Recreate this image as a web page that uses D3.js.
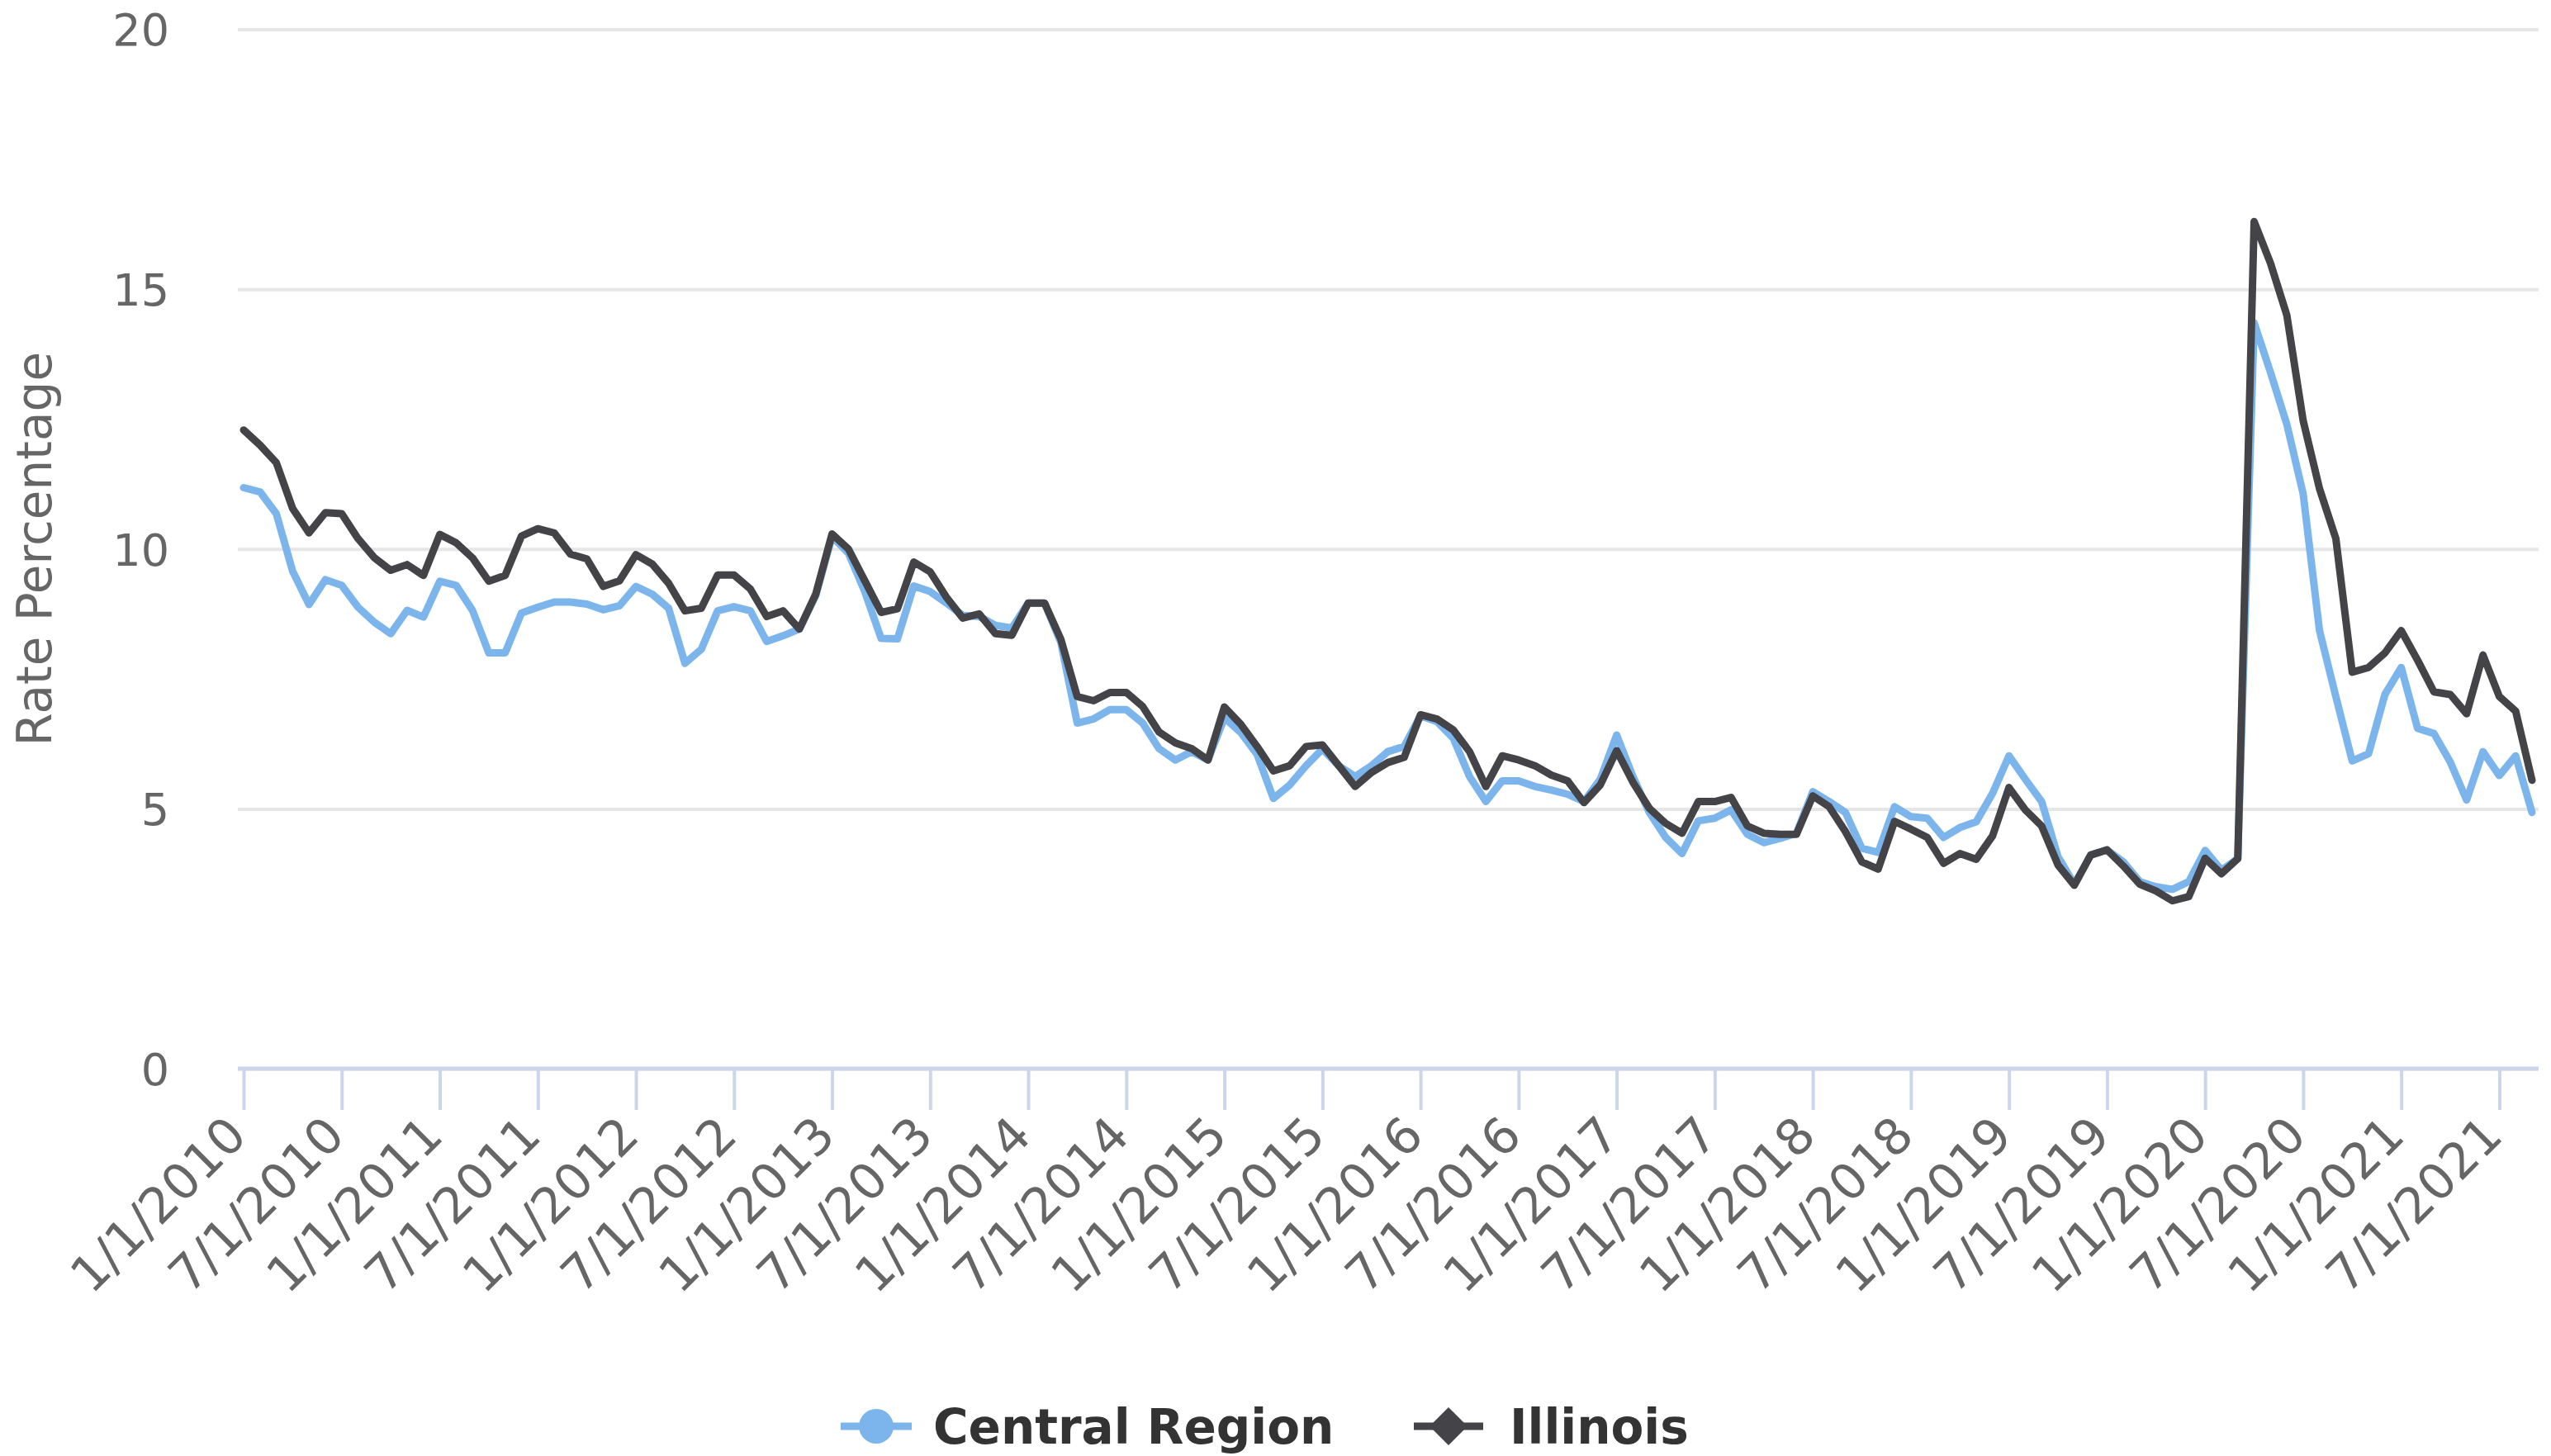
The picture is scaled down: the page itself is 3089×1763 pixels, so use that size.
<!DOCTYPE html>
<html><head><meta charset="utf-8">
<script src="https://cdn.jsdelivr.net/npm/d3@7"></script>
<style>html,body{margin:0;padding:0;background:#fff;} svg{display:block;}</style>
</head><body>
<svg id="chart" width="3089" height="1763"></svg>
<script>
// ---- data ----
const months = [];
for (let yr = 2010; yr <= 2021; yr++) {
  for (let m = 1; m <= 12; m++) {
    if (yr === 2021 && m > 9) break;
    months.push(m + "/1/" + yr);
  }
}
const tickLabels = ["1/1/2010","7/1/2010","1/1/2011","7/1/2011","1/1/2012","7/1/2012","1/1/2013","7/1/2013",
  "1/1/2014","7/1/2014","1/1/2015","7/1/2015","1/1/2016","7/1/2016","1/1/2017","7/1/2017",
  "1/1/2018","7/1/2018","1/1/2019","7/1/2019","1/1/2020","7/1/2020","1/1/2021","7/1/2021"];
const yTicks = [0, 5, 10, 15, 20];
const seriesNames = ["Central Region", "Illinois"];
const centralRegion = [11.18,11.1,10.68,9.57,8.93,9.41,9.30,8.88,8.59,8.37,8.82,8.69,
  9.38,9.30,8.82,8.0,8.0,8.77,8.88,8.98,8.98,8.94,8.83,8.91,
  9.28,9.13,8.86,7.80,8.07,8.81,8.89,8.81,8.22,8.33,8.46,9.1,
  10.24,9.92,9.18,8.28,8.27,9.29,9.18,8.96,8.72,8.7,8.53,8.48,
  8.96,8.96,8.2,6.65,6.73,6.91,6.91,6.65,6.16,5.94,6.1,5.94,
  6.75,6.47,6.05,5.2,5.46,5.83,6.15,5.83,5.62,5.83,6.1,6.2,
  6.79,6.68,6.36,5.62,5.14,5.54,5.54,5.43,5.36,5.28,5.14,5.57,
  6.42,5.62,4.93,4.45,4.14,4.77,4.82,4.98,4.51,4.35,4.43,4.53,
  5.33,5.14,4.93,4.24,4.16,5.04,4.85,4.82,4.45,4.64,4.75,5.3,
  6.02,5.57,5.14,4.08,3.55,4.11,4.21,3.98,3.6,3.5,3.45,3.6,
  4.2,3.82,4.04,14.35,13.4,12.4,11.06,8.43,7.16,5.92,6.06,7.2,
  7.72,6.55,6.45,5.9,5.17,6.1,5.64,6.02,4.93];
const illinois = [12.29,12.0,11.66,10.78,10.31,10.70,10.68,10.2,9.83,9.59,9.70,9.49,
  10.28,10.12,9.83,9.38,9.49,10.25,10.39,10.31,9.9,9.81,9.28,9.39,
  9.89,9.71,9.34,8.81,8.86,9.50,9.50,9.23,8.70,8.81,8.46,9.13,
  10.29,10.0,9.39,8.78,8.85,9.75,9.56,9.07,8.67,8.75,8.37,8.34,
  8.96,8.96,8.26,7.16,7.08,7.24,7.24,6.97,6.48,6.27,6.16,5.94,
  6.96,6.63,6.2,5.73,5.83,6.2,6.23,5.83,5.43,5.7,5.89,5.99,
  6.81,6.73,6.52,6.1,5.43,6.02,5.94,5.83,5.65,5.54,5.12,5.46,
  6.12,5.51,5.01,4.72,4.53,5.14,5.14,5.22,4.67,4.53,4.51,4.51,
  5.25,5.04,4.56,3.98,3.84,4.76,4.61,4.45,3.95,4.14,4.03,4.48,
  5.41,4.98,4.67,3.92,3.53,4.11,4.21,3.9,3.55,3.42,3.23,3.31,
  4.05,3.75,4.04,16.3,15.5,14.5,12.47,11.16,10.2,7.63,7.72,8.0,
  8.43,7.86,7.25,7.2,6.83,7.96,7.16,6.88,5.55];
const colors = ["#7cb5ec", "#434348"];

// ---- layout ----
const FONT = "'DejaVu Sans', Verdana, sans-serif";
const plotL = 288, plotR = 3074, plotT = 35.5, plotB = 1294;
const svg = d3.select("#chart");
const x = d3.scaleLinear().domain([0, months.length - 1]).range([295, 3066]);
const y = d3.scaleLinear().domain([0, 20]).range([plotB, plotT]);

// gridlines
const grid = svg.append("g").attr("transform", `translate(${plotL},0)`)
  .call(d3.axisLeft(y).tickValues(yTicks).tickSize(-(plotR - plotL)).tickFormat(""));
grid.select(".domain").remove();
grid.selectAll("line").attr("stroke", "#e6e6e6").attr("stroke-width", 4);

// y labels
const yAx = svg.append("g").attr("transform", "translate(205,0)")
  .call(d3.axisLeft(y).tickValues(yTicks).tickSize(0).tickPadding(0));
yAx.select(".domain").remove();
yAx.selectAll("text").attr("fill", "#666666").style("font-family", FONT).style("font-size", "54px").attr("dy", "0.36em");

// y title
svg.append("text").attr("transform", `translate(62,${(plotT + plotB) / 2}) rotate(-90)`)
  .attr("text-anchor", "middle").attr("fill", "#666666")
  .style("font-family", FONT).style("font-size", "58px").text("Rate Percentage");

// x axis
const tickIdx = tickLabels.map(l => months.indexOf(l));
const xAx = svg.append("g").attr("transform", `translate(0,${plotB})`)
  .call(d3.axisBottom(x).tickValues(tickIdx).tickSize(50).tickFormat(i => months[i]));
xAx.select(".domain").remove();
xAx.selectAll(".tick line").attr("stroke", "#ccd6eb").attr("stroke-width", 4);
xAx.selectAll("text").attr("x", 0).attr("y", 0).attr("dy", 0)
  .attr("transform", "translate(6,84) rotate(-45)")
  .attr("text-anchor", "end").attr("fill", "#666666")
  .style("font-family", FONT).style("font-size", "60px");
svg.append("line").attr("x1", plotL).attr("x2", plotR).attr("y1", plotB).attr("y2", plotB)
  .attr("stroke", "#ccd6eb").attr("stroke-width", 5);

// lines
const line = d3.line().x((d, i) => x(i)).y(d => y(d));
[centralRegion, illinois].forEach((s, k) => {
  svg.append("path").datum(s).attr("d", line).attr("fill", "none")
    .attr("stroke", colors[k]).attr("stroke-width", 9)
    .attr("stroke-linejoin", "round").attr("stroke-linecap", "round");
});

// legend
const legY = 1727;
const leg = [
  {x0: 1018, x1: 1104, tx: 1130, sym: "circle"},
  {x0: 1712, x1: 1796, tx: 1828, sym: "diamond"}
];
leg.forEach((L, k) => {
  svg.append("line").attr("x1", L.x0).attr("x2", L.x1).attr("y1", legY).attr("y2", legY)
    .attr("stroke", colors[k]).attr("stroke-width", 9);
  const cx = (L.x0 + L.x1) / 2;
  if (L.sym === "circle") {
    svg.append("circle").attr("cx", cx).attr("cy", legY).attr("r", 21).attr("fill", colors[k]);
  } else {
    const r = 23;
    svg.append("path").attr("d", `M${cx},${legY - r}L${cx + r},${legY}L${cx},${legY + r}L${cx - r},${legY}Z`).attr("fill", colors[k]);
  }
  svg.append("text").attr("x", L.tx).attr("y", 1748).attr("fill", "#333333")
    .style("font-family", FONT).style("font-size", "58px").style("font-weight", "bold")
    .text(seriesNames[k]);
});
</script>
</body></html>
